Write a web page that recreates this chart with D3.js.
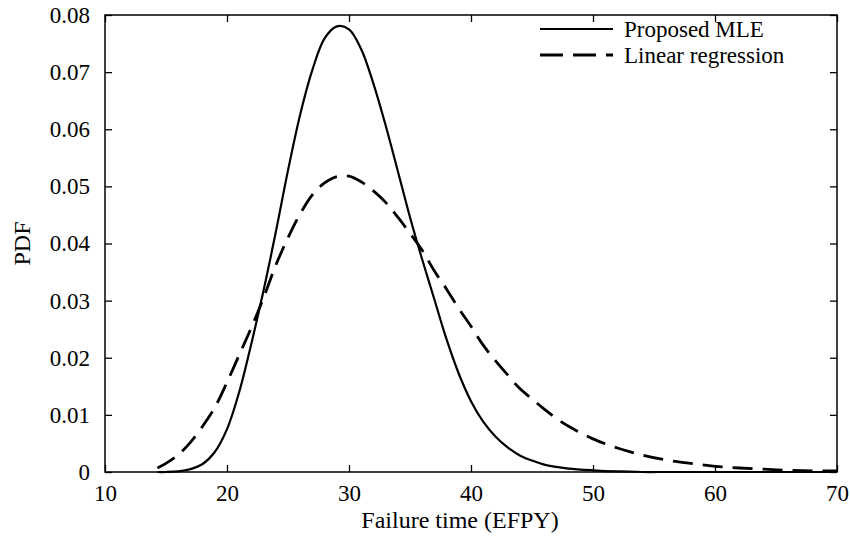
<!DOCTYPE html>
<html>
<head>
<meta charset="utf-8">
<script src="https://cdn.jsdelivr.net/npm/d3@7"></script>
<style>
  body { margin: 0; background: #fff; }
  text { font-family: "Liberation Serif", "Times New Roman", serif; }
</style>
</head>
<body>
<svg id="drawing_region"></svg>
<script>
// failure time (EFPY) sample points
const times = [14.3, 15, 16, 17, 18, 19, 20, 21, 22, 23, 24, 25, 26, 27, 28, 29, 30, 31, 32, 33, 34, 35,
    36, 37, 38, 39, 40, 41, 42, 43, 44, 45, 46, 47, 48, 50, 52, 54, 56, 58, 60, 62, 64, 66, 68, 70];

// PDF, proposed MLE
const mleValues = [0.0000, 0.0000, 0.0001, 0.0005, 0.0014, 0.0035, 0.0075, 0.0140, 0.0225, 0.0318, 0.0420,
    0.0528, 0.0626, 0.0704, 0.0759, 0.0780, 0.0775, 0.0740, 0.0680, 0.0607, 0.0527, 0.0446,
    0.0372, 0.0302, 0.0232, 0.0172, 0.0124, 0.0088, 0.0062, 0.0043, 0.0029, 0.0020, 0.0013, 0.0009, 0.0006,
    0.0003, 0.0001, 0.0000, 0.0000, 0.0000, 0.0000, 0.0000, 0.0000, 0.0000, 0.0000, 0.0000];

// PDF, linear regression
const lrValues = [0.0007, 0.0015, 0.0030, 0.0052, 0.0080, 0.0113, 0.0157, 0.0205, 0.0253, 0.0305, 0.0362,
    0.0410, 0.0452, 0.0485, 0.0506, 0.0517, 0.0518, 0.0508, 0.0492, 0.0472, 0.0446, 0.0418,
    0.0388, 0.0352, 0.0320, 0.0286, 0.0255, 0.0222, 0.0195, 0.0170, 0.0146, 0.0128, 0.0110, 0.0094, 0.0080,
    0.0058, 0.0042, 0.0030, 0.0021, 0.0015, 0.0010, 0.0007, 0.0005, 0.0003, 0.0002, 0.0002];

const xTicks = [10, 20, 30, 40, 50, 60, 70];
const yTicks = [0, 0.01, 0.02, 0.03, 0.04, 0.05, 0.06, 0.07, 0.08];
const seriesNames = ["Proposed MLE", "Linear regression"];

const width = 850, height = 539;
const margin = {top: 15, right: 13, bottom: 67, left: 105};
const inner_width = width - margin.left - margin.right;
const inner_height = height - margin.top - margin.bottom;
const fontSize = 23;

const svg = d3.select('#drawing_region')
    .attr('width', width)
    .attr('height', height);

const chart = svg.append('g')
    .attr('transform', `translate(${margin.left}, ${margin.top})`);

const xscale = d3.scaleLinear().domain([10, 70]).range([0, inner_width]);
const yscale = d3.scaleLinear().domain([0, 0.08]).range([inner_height, 0]);

const fmtY = d => d === 0 ? "0" : d3.format(".2f")(d);

function styleAxis(g) {
    g.select('.domain').remove();
    g.selectAll('.tick line').attr('stroke', '#000').attr('stroke-width', 1.3);
    g.selectAll('.tick text').attr('fill', '#000').style('font-size', fontSize + 'px')
        .style('font-family', '"Liberation Serif", serif');
}

// bottom and left axes with labels, ticks pointing inward
chart.append('g')
    .attr('transform', `translate(0, ${inner_height})`)
    .call(d3.axisBottom(xscale).tickValues(xTicks).tickSizeInner(-7).tickSizeOuter(0).tickPadding(13))
    .call(styleAxis);

chart.append('g')
    .call(d3.axisLeft(yscale).tickValues(yTicks).tickFormat(fmtY).tickSizeInner(-7).tickSizeOuter(0).tickPadding(15))
    .call(styleAxis);

// top and right axes, ticks only
chart.append('g')
    .call(d3.axisTop(xscale).tickValues(xTicks).tickFormat('').tickSizeInner(-7).tickSizeOuter(0))
    .call(styleAxis);

chart.append('g')
    .attr('transform', `translate(${inner_width}, 0)`)
    .call(d3.axisRight(yscale).tickValues(yTicks).tickFormat('').tickSizeInner(-7).tickSizeOuter(0))
    .call(styleAxis);

// frame
chart.append('rect')
    .attr('width', inner_width)
    .attr('height', inner_height)
    .attr('fill', 'none')
    .attr('stroke', '#000')
    .attr('stroke-width', 1.5);

const line = d3.line()
    .x(d => xscale(d[0]))
    .y(d => yscale(d[1]))
    .curve(d3.curveCatmullRom.alpha(0.5));

chart.append('path')
    .attr('d', line(d3.zip(times, lrValues)))
    .attr('fill', 'none')
    .attr('stroke', '#000')
    .attr('stroke-width', 2.8)
    .attr('stroke-dasharray', '20,10');

chart.append('path')
    .attr('d', line(d3.zip(times, mleValues)))
    .attr('fill', 'none')
    .attr('stroke', '#000')
    .attr('stroke-width', 2.2);

// axis titles
svg.append('text')
    .attr('x', 460)
    .attr('y', 528)
    .attr('text-anchor', 'middle')
    .style('font-size', '24px')
    .text('Failure time (EFPY)');

svg.append('text')
    .attr('transform', `translate(30, ${margin.top + inner_height / 2}) rotate(-90)`)
    .attr('text-anchor', 'middle')
    .style('font-size', '24px')
    .text('PDF');

// legend
const legend = svg.append('g').attr('transform', 'translate(540, 29)');
const legendStyles = [{w: 2.2, dash: null}, {w: 2.8, dash: '23,10'}];
seriesNames.forEach((name, i) => {
    const row = legend.append('g').attr('transform', `translate(0, ${i * 26})`);
    row.append('line')
        .attr('x1', 0).attr('x2', 73)
        .attr('stroke', '#000')
        .attr('stroke-width', legendStyles[i].w)
        .attr('stroke-dasharray', legendStyles[i].dash);
    row.append('text')
        .attr('x', 84)
        .attr('dy', '0.33em')
        .style('font-size', '23px')
        .text(name);
});
</script>
</body>
</html>
